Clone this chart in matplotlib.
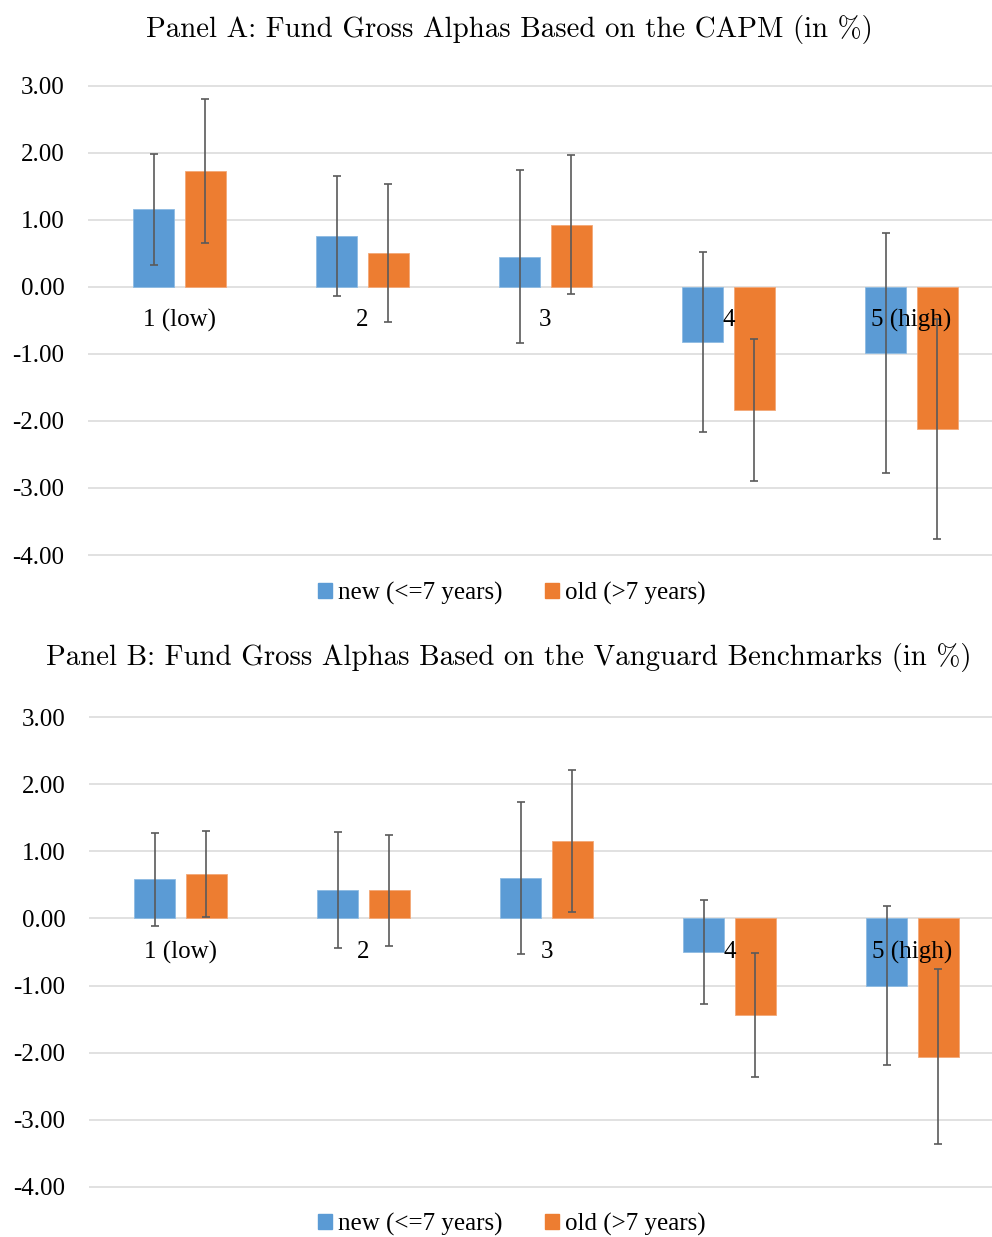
import matplotlib
matplotlib.use("Agg")
import matplotlib.pyplot as plt
import numpy as np
from matplotlib.patches import Patch

# Data (in %)
groups = ["1 (low)", "2", "3", "4", "5 (high)"]
series_names = ["new (<=7 years)", "old (>7 years)"]

capm_new = [1.16, 0.76, 0.45, -0.82, -0.99]
capm_new_err = [0.83, 0.89, 1.29, 1.34, 1.79]
capm_old = [1.73, 0.51, 0.93, -1.84, -2.12]
capm_old_err = [1.08, 1.03, 1.04, 1.06, 1.64]

vg_new = [0.58, 0.42, 0.60, -0.50, -1.00]
vg_new_err = [0.69, 0.86, 1.13, 0.78, 1.18]
vg_old = [0.66, 0.42, 1.15, -1.44, -2.06]
vg_old_err = [0.64, 0.83, 1.06, 0.92, 1.30]

yticks = [3, 2, 1, 0, -1, -2, -3, -4]

BLUE = "#5b9bd5"
ORANGE = "#ed7d31"
GRID = "#d9d9d9"
ERR = "#5a5a5a"

SERIF = "Liberation Serif"

W, H = 992, 1237
fig = plt.figure(figsize=(W / 100, H / 100), dpi=100)


def draw_panel(ax, new, new_err, old, old_err):
    x = np.arange(len(groups))
    bw = 0.224
    off = 0.142
    ax.bar(x - off, new, bw, color=BLUE, edgecolor="#8dbbe3", linewidth=0.6, zorder=2)
    ax.bar(x + off, old, bw, color=ORANGE, edgecolor="#f3a877", linewidth=0.6, zorder=2)
    ax.errorbar(x - off, new, yerr=new_err, fmt="none", ecolor=ERR,
                elinewidth=1.2, capsize=3, capthick=1.2, zorder=3)
    ax.errorbar(x + off, old, yerr=old_err, fmt="none", ecolor=ERR,
                elinewidth=1.2, capsize=3, capthick=1.2, zorder=3)
    for i, g in enumerate(groups):
        ax.text(i, -0.50, g, ha="center", va="center", fontsize=18,
                family=SERIF, zorder=4)
    ax.set_xlim(-0.5, -0.5 + 904 / 183)
    ax.set_ylim(-4.05, 3.05)
    ax.set_yticks(yticks)
    ax.set_yticklabels([f"{v:.2f}" for v in yticks], family=SERIF, fontsize=18)
    ax.set_xticks([])
    ax.tick_params(axis="y", length=0, pad=17)
    ax.grid(axis="y", color=GRID, linewidth=1.1, zorder=0)
    ax.set_axisbelow(True)
    for s in ax.spines.values():
        s.set_visible(False)


def px_axes(left, top, right, bottom):
    return fig.add_axes([left / W, 1 - bottom / H, (right - left) / W, (bottom - top) / H])


axA = px_axes(88, 82.65, 992, 558.35)
draw_panel(axA, capm_new, capm_new_err, capm_old, capm_old_err)

axB = px_axes(89, 713.65, 993, 1190.35)
draw_panel(axB, vg_new, vg_new_err, vg_old, vg_old_err)

fig.text(509 / W, 1 - 30 / H, "Panel A: Fund Gross Alphas Based on the CAPM (in %)",
         ha="center", va="center", fontsize=20.8, family="cmr10")
fig.text(509 / W, 1 - 658 / H,
         "Panel B: Fund Gross Alphas Based on the Vanguard Benchmarks (in %)",
         ha="center", va="center", fontsize=20.8, family="cmr10")

handles = [Patch(color=BLUE), Patch(color=ORANGE)]
for yc in (593, 1224):
    fig.legend(handles, series_names, loc="center", bbox_to_anchor=(512 / W, 1 - yc / H),
               ncol=2, frameon=False, prop={"family": SERIF, "size": 18},
               handlelength=0.55, handleheight=0.55, handletextpad=0.25, columnspacing=1.7)

fig.savefig("out.png", dpi=100)
